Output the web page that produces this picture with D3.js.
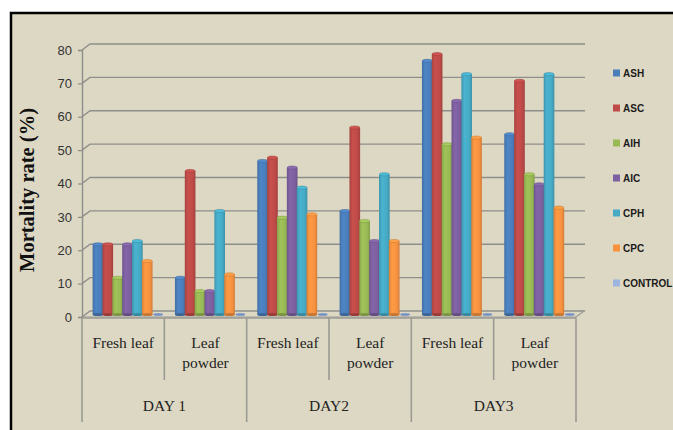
<!DOCTYPE html>
<html>
<head>
<meta charset="utf-8">
<script src="https://cdn.jsdelivr.net/npm/d3@7"></script>
<style>
  body { margin: 0; background: #fff; }
  svg { display: block; }
</style>
</head>
<body>
<div class="chart"></div>
<script>
var svgWidth = 673;
var svgHeight = 430;

// chart data
var days = ["DAY 1", "DAY2", "DAY3"];
var forms = ["Fresh leaf", "Leaf powder"];
var series = ["ASH", "ASC", "AIH", "AIC", "CPH", "CPC", "CONTROL"];
var colors = ["#4a7ebb", "#be4b48", "#98b954", "#7d60a0", "#46aac5", "#f69240", "#9cb4de"];
var yTicks = [0, 10, 20, 30, 40, 50, 60, 70, 80];

var ASH = [21, 11, 46, 31, 76, 54];
var ASC = [21, 43, 47, 56, 78, 70];
var AIH = [11, 7, 29, 28, 51, 42];
var AIC = [21, 7, 44, 22, 64, 39];
var CPH = [22, 31, 38, 42, 72, 72];
var CPC = [16, 12, 30, 22, 53, 32];
var CONTROL = [0, 0, 0, 0, 0, 0];
var values = [ASH, ASC, AIH, AIC, CPH, CPC, CONTROL];

var plot = { left: 82, right: 576, top: 50, bottom: 317 };
var depth = { dx: 8, dy: -6 };

var svg = d3.select(".chart")
  .append("svg")
  .attr("width", svgWidth)
  .attr("height", svgHeight);

var defs = svg.append("defs");

// background + frame
svg.append("rect")
  .attr("x", 11).attr("y", 13)
  .attr("width", svgWidth - 11).attr("height", svgHeight - 13)
  .attr("fill", "#ddd8c3");
svg.append("path")
  .attr("d", `M11,${svgHeight} V13 H${svgWidth}`)
  .attr("fill", "none")
  .attr("stroke", "#000")
  .attr("stroke-width", 2.5);

var categories = [];
days.forEach(function(d) {
  forms.forEach(function(f) { categories.push(d + "|" + f); });
});

var x0 = d3.scaleBand()
  .domain(categories)
  .range([plot.left, plot.right]);

var x1 = d3.scaleBand()
  .domain(series)
  .range([0, 69]);

var y = d3.scaleLinear()
  .domain([0, 80])
  .range([plot.bottom, plot.top]);

// back wall gridlines (3d offset)
var grid = svg.append("g");
yTicks.forEach(function(t) {
  var yy = y(t);
  grid.append("path")
    .attr("d", `M${plot.left},${yy} L${plot.left + depth.dx},${yy + depth.dy} H585`)
    .attr("fill", "none")
    .attr("stroke", t === 0 ? "#9a9a94" : "#8e8e8a")
    .attr("stroke-width", 1.4);
});
// floor
svg.append("path")
  .attr("d", `M${plot.left},${plot.bottom} H${plot.right} L${plot.right + depth.dx},${plot.bottom + depth.dy} H${plot.left + depth.dx} Z`)
  .attr("fill", "none")
  .attr("stroke", "#9a9a94")
  .attr("stroke-width", 1.2);

// y axis
var leftAxis = d3.axisLeft(y).tickValues(yTicks).tickSize(4).tickPadding(6);
var yAxis = svg.append("g")
  .attr("transform", `translate(${plot.left},0)`)
  .call(leftAxis);
yAxis.select(".domain").attr("stroke", "#8e8e8a").attr("stroke-width", 1.4);
yAxis.selectAll(".tick line").attr("stroke", "#8e8e8a").attr("stroke-width", 1.2);
yAxis.selectAll("text")
  .attr("fill", "#333")
  .style("font-family", "'Liberation Sans', Arial, sans-serif")
  .style("font-size", "13px");

// cylinder gradients
colors.forEach(function(c, i) {
  var g = defs.append("linearGradient")
    .attr("id", "cyl" + i)
    .attr("x1", "0%").attr("x2", "100%").attr("y1", "0%").attr("y2", "0%");
  var base = d3.color(c);
  g.append("stop").attr("offset", "0%").attr("stop-color", base.darker(0.35));
  g.append("stop").attr("offset", "30%").attr("stop-color", base.brighter(0.15));
  g.append("stop").attr("offset", "75%").attr("stop-color", base);
  g.append("stop").attr("offset", "100%").attr("stop-color", base.darker(0.45));
});

// bars (cylinders)
var shift = 11;
var bars = svg.append("g");
categories.forEach(function(cat, ci) {
  series.forEach(function(s, si) {
    var v = values[si][ci];
    var bw = x1.bandwidth() + 0.8;
    var bx = x0(cat) + shift + x1(s) - 0.4;
    var base = y(0) - 2.5;
    var top = y(v) - 2.5;
    var g = bars.append("g");
    if (v > 0) {
      g.append("rect")
        .attr("x", bx).attr("y", top)
        .attr("width", bw).attr("height", base - top)
        .attr("fill", `url(#cyl${si})`);
      g.append("ellipse")
        .attr("cx", bx + bw / 2).attr("cy", base)
        .attr("rx", bw / 2).attr("ry", 1.5)
        .attr("fill", d3.color(colors[si]).darker(0.6));
      g.append("ellipse")
        .attr("cx", bx + bw / 2).attr("cy", top)
        .attr("rx", bw / 2 - 0.2).attr("ry", 1.6)
        .attr("fill", d3.color(colors[si]).brighter(0.3))
        .attr("stroke", d3.color(colors[si]).darker(0.5))
        .attr("stroke-width", 0.6);
    } else {
      g.append("ellipse")
        .attr("cx", bx + bw / 2 + 1).attr("cy", base)
        .attr("rx", bw / 2 - 0.4).attr("ry", 1.3)
        .attr("fill", "#6f8fc6");
    }
  });
});

// x axis: category lines and labels
var xg = svg.append("g");
var axisY = plot.bottom + 1;
xg.append("line")
  .attr("x1", plot.left).attr("x2", plot.right)
  .attr("y1", axisY).attr("y2", axisY)
  .attr("stroke", "#9a9a94").attr("stroke-width", 1.4);

categories.forEach(function(cat, ci) {
  var xx = x0(cat);
  var longLine = ci % 2 === 0;
  xg.append("line")
    .attr("x1", xx).attr("x2", xx)
    .attr("y1", axisY).attr("y2", longLine ? 422 : 380)
    .attr("stroke", "#9a9a94").attr("stroke-width", 1.6);
});
xg.append("line")
  .attr("x1", plot.right).attr("x2", plot.right)
  .attr("y1", axisY).attr("y2", 422)
  .attr("stroke", "#9a9a94").attr("stroke-width", 1.6);

var serif = "'Liberation Serif', 'Times New Roman', serif";
categories.forEach(function(cat, ci) {
  var form = cat.split("|")[1];
  var cx = x0(cat) + x0.bandwidth() / 2;
  var lines = form === "Fresh leaf" ? ["Fresh leaf"] : ["Leaf", "powder"];
  lines.forEach(function(t, li) {
    xg.append("text")
      .attr("x", cx).attr("y", 348 + li * 20)
      .attr("text-anchor", "middle")
      .attr("fill", "#222")
      .style("font-family", serif)
      .style("font-size", "15.5px")
      .text(t);
  });
});
days.forEach(function(d, di) {
  var cx = x0(d + "|" + forms[0]) + x0.bandwidth();
  xg.append("text")
    .attr("x", cx).attr("y", 411)
    .attr("text-anchor", "middle")
    .attr("fill", "#222")
    .style("font-family", serif)
    .style("font-size", "15.5px")
    .text(d);
});

// y axis title
svg.append("text")
  .attr("transform", "translate(34, 190) rotate(-90)")
  .attr("text-anchor", "middle")
  .attr("fill", "#111")
  .style("font-family", serif)
  .style("font-weight", "bold")
  .style("font-size", "20.5px")
  .text("Mortality rate (%)");

// legend
var legend = svg.append("g");
series.forEach(function(s, i) {
  var ly = 73 + i * 35;
  legend.append("rect")
    .attr("x", 613).attr("y", ly - 3.5)
    .attr("width", 7).attr("height", 7)
    .attr("fill", colors[i]);
  legend.append("text")
    .attr("x", 623).attr("y", ly + 3.5)
    .attr("fill", "#1a1a1a")
    .style("font-family", "'Liberation Sans', Arial, sans-serif")
    .style("font-weight", "bold")
    .style("font-size", "10px")
    .text(s);
});
</script>
</body>
</html>
